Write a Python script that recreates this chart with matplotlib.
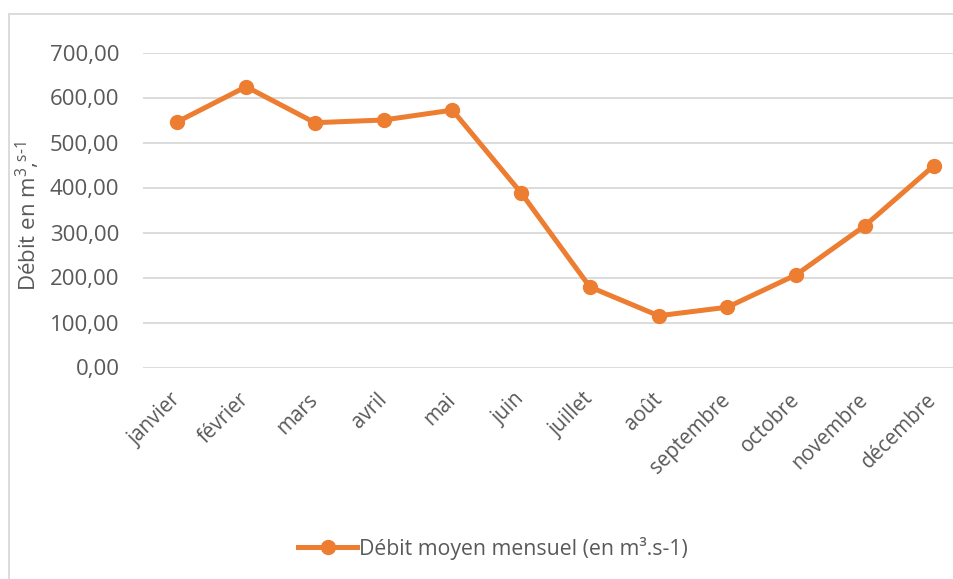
import matplotlib.pyplot as plt
from matplotlib.patches import Rectangle

months = ['janvier', 'février', 'mars', 'avril', 'mai', 'juin', 'juillet',
          'août', 'septembre', 'octobre', 'novembre', 'décembre']
debit = [546, 624, 544, 550, 572, 388, 179, 115, 134, 206, 315, 448]
y_ticks = [0, 100, 200, 300, 400, 500, 600, 700]
y_tick_labels = ['0,00', '100,00', '200,00', '300,00', '400,00', '500,00', '600,00', '700,00']

orange = '#ED7D31'
text_grey = '#595959'
grid_grey = '#D9D9D9'

plt.rcParams['font.family'] = ['Open Sans', 'DejaVu Sans']
plt.rcParams['mathtext.fontset'] = 'custom'
plt.rcParams['mathtext.rm'] = 'Open Sans'
plt.rcParams['mathtext.it'] = 'Open Sans'

fig = plt.figure(figsize=(9.54, 5.79), dpi=100)
W, H = 954, 579

# chart border (the picture is cropped on the right and bottom)
fig.patches.append(Rectangle((9.5 / W, -0.2), 1.2, 0.2 + 1 - 13.5 / H,
                             transform=fig.transFigure, fill=False,
                             edgecolor=grid_grey, linewidth=1.3))

left, right = 143 / W, 968 / W
bottom, top = 1 - 367.5 / H, 1 - 52.5 / H
ax = fig.add_axes([left, bottom, right - left, top - bottom])

x = list(range(len(months)))
ax.plot(x, debit, color=orange, linewidth=3.6, marker='o', markersize=10,
        label='Débit moyen mensuel (en m³.s-1)', zorder=3, clip_on=False)

ax.set_xlim(-0.5, len(months) - 0.5)
ax.set_ylim(0, 700)
ax.set_yticks(y_ticks)
ax.set_yticklabels(y_tick_labels)
ax.set_xticks(x)
ax.set_xticklabels(months, rotation=45, ha='right', va='center',
                   rotation_mode='anchor')

ax.grid(axis='y', color=grid_grey, linewidth=1.3)
ax.set_axisbelow(True)
for s in ax.spines.values():
    s.set_visible(False)
ax.tick_params(axis='y', length=0, labelsize=16, colors=text_grey, pad=17)
ax.tick_params(axis='x', length=0, labelsize=14.8, colors=text_grey, pad=21)

ax.set_ylabel(r'Débit en m$^{3}$,$^{\mathrm{s}\text{-}1}$', fontsize=16, color=text_grey)
ax.yaxis.set_label_coords(-0.122, 0.48)

leg = fig.legend(loc='center', bbox_to_anchor=(493 / W, 1 - 548 / H), frameon=False,
                 fontsize=15.3, handlelength=2.8, handletextpad=0.1)
for t in leg.get_texts():
    t.set_color(text_grey)

fig.savefig('out.png', dpi=100)
